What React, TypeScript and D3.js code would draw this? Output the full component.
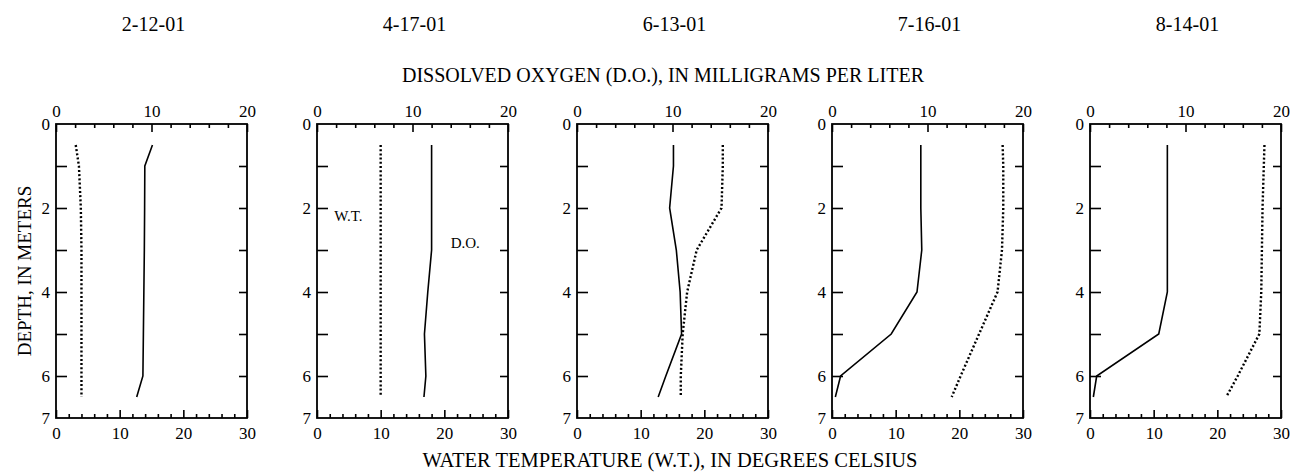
import { useEffect, useRef } from 'react'
import * as d3 from 'd3'

// sampling depths, in meters
const depths = [0.5, 1, 2, 3, 4, 5, 6, 6.5]

const dates = ['2-12-01', '4-17-01', '6-13-01', '7-16-01', '8-14-01']

// dissolved oxygen, mg/L
const doFeb = [10.1, 9.3, 9.28, 9.25, 9.2, 9.15, 9.1, 8.45]
const doApr = [12.0, 12.0, 12.0, 12.0, 11.6, 11.25, 11.4, 11.2]
const doJun = [10.1, 10.1, 9.7, 10.4, 10.8, 10.95, 9.3, 8.5]
const doJul = [9.3, 9.3, 9.3, 9.4, 8.9, 6.2, 0.9, 0.35]
const doAug = [8.1, 8.1, 8.1, 8.1, 8.1, 7.2, 0.7, 0.35]

// water temperature, deg C
const wtFeb = [3.1, 3.6, 3.9, 4.0, 4.0, 4.0, 4.0, 4.0]
const wtApr = [10, 10, 10, 10, 10, 10, 10, 10]
const wtJun = [22.9, 22.9, 22.7, 18.8, 17.3, 16.6, 16.3, 16.3]
const wtJul = [26.8, 26.9, 26.9, 26.7, 26.0, 23.1, 20.2, 18.8]
const wtAug = [27.4, 27.3, 27.1, 27.0, 26.9, 26.6, 23.2, 21.4]

const doSeries = [doFeb, doApr, doJun, doJul, doAug]
const wtSeries = [wtFeb, wtApr, wtJun, wtJul, wtAug]

const doTicks = [0, 10, 20]
const wtTicks = [0, 10, 20, 30]
const depthTicks = [0, 2, 4, 6, 7]

// in-plot labels on the second panel
const wtLabel = { text: 'W.T.', wt: 2.7, depth: 2.3 }
const doLabel = { text: 'D.O.', value: 14, depth: 2.95 }

const WIDTH = 1292
const HEIGHT = 475
const panelLeft = [56, 317, 577, 832, 1090]
const panelW = 191
const top = 124
const bottom = 418
const font = '"Liberation Serif", "Times New Roman", serif'

const App: React.FC = () => {
  const svgRef = useRef<SVGSVGElement>(null)

  useEffect(() => {
    if (!svgRef.current) return
    const svg = d3.select(svgRef.current)
    svg.selectAll('*').remove()

    const y = d3.scaleLinear().domain([0, 7]).range([top, bottom])

    dates.forEach((date, i) => {
      const left = panelLeft[i]
      const right = left + panelW
      const xDo = d3.scaleLinear().domain([0, 20]).range([left, right])
      const xWt = d3.scaleLinear().domain([0, 30]).range([left, right])
      const g = svg.append('g')

      // date title
      g.append('text')
        .attr('x', (left + right) / 2 + 2)
        .attr('y', 31)
        .attr('text-anchor', 'middle')
        .attr('font-size', 20)
        .text(date)

      // top axis: dissolved oxygen
      g.append('g')
        .attr('transform', `translate(0,${top})`)
        .call(d3.axisTop(xDo).tickValues(d3.range(2, 20, 2).filter(v => v !== 10)).tickSize(-4).tickFormat(() => ''))
      g.append('g')
        .attr('transform', `translate(0,${top})`)
        .call(d3.axisTop(xDo).tickValues(doTicks).tickSize(-8).tickPadding(7).tickFormat(d3.format('d')))

      // bottom axis: water temperature
      g.append('g')
        .attr('transform', `translate(0,${bottom})`)
        .call(d3.axisBottom(xWt).tickValues(d3.range(2, 30, 2).filter(v => v % 10 !== 0)).tickSize(-4).tickFormat(() => ''))
      g.append('g')
        .attr('transform', `translate(0,${bottom})`)
        .call(d3.axisBottom(xWt).tickValues(wtTicks).tickSize(-8).tickPadding(9).tickFormat(d3.format('d')))

      // depth axes
      g.append('g')
        .attr('transform', `translate(${left},0)`)
        .call(d3.axisLeft(y).tickValues(d3.range(1, 7)).tickSize(-11).tickFormat(() => ''))
      g.append('g')
        .attr('transform', `translate(${left},0)`)
        .call(d3.axisLeft(y).tickValues(depthTicks).tickSize(0).tickPadding(6).tickFormat(d3.format('d')))
      g.append('g')
        .attr('transform', `translate(${right},0)`)
        .call(d3.axisRight(y).tickValues(d3.range(1, 7)).tickSize(-8).tickFormat(() => ''))

      g.selectAll('.domain').remove()
      g.selectAll('.tick line').attr('stroke', '#000').attr('stroke-width', 1.6)
      g.selectAll('.tick text').attr('font-family', font).attr('font-size', 17).attr('fill', '#000')

      // frame
      g.append('rect')
        .attr('x', left)
        .attr('y', top)
        .attr('width', panelW)
        .attr('height', bottom - top)
        .attr('fill', 'none')
        .attr('stroke', '#000')
        .attr('stroke-width', 1.8)

      const doLine = d3.line<number>()
        .x(v => xDo(v))
        .y((_, k) => y(depths[k]))
      const wtLine = d3.line<number>()
        .x(v => xWt(v))
        .y((_, k) => y(depths[k]))

      g.append('path')
        .datum(wtSeries[i])
        .attr('d', wtLine)
        .attr('fill', 'none')
        .attr('stroke', '#000')
        .attr('stroke-width', 2.4)
        .attr('stroke-dasharray', '2 2.2')

      g.append('path')
        .datum(doSeries[i])
        .attr('d', doLine)
        .attr('fill', 'none')
        .attr('stroke', '#000')
        .attr('stroke-width', 1.6)

      if (i === 1) {
        g.append('text')
          .attr('x', xWt(wtLabel.wt))
          .attr('y', y(wtLabel.depth))
          .attr('font-size', 15)
          .text(wtLabel.text)
        g.append('text')
          .attr('x', xDo(doLabel.value))
          .attr('y', y(doLabel.depth))
          .attr('font-size', 15)
          .text(doLabel.text)
      }
    })

    svg.append('text')
      .attr('x', 663)
      .attr('y', 82)
      .attr('text-anchor', 'middle')
      .attr('font-size', 20)
      .text('DISSOLVED OXYGEN (D.O.), IN MILLIGRAMS PER LITER')

    svg.append('text')
      .attr('x', 670)
      .attr('y', 467)
      .attr('text-anchor', 'middle')
      .attr('font-size', 20.5)
      .text('WATER TEMPERATURE (W.T.), IN DEGREES CELSIUS')

    svg.append('text')
      .attr('transform', `translate(31,${(top + bottom) / 2}) rotate(-90)`)
      .attr('text-anchor', 'middle')
      .attr('font-size', 19)
      .text('DEPTH, IN METERS')
  }, [])

  return (
    <svg
      ref={svgRef}
      width={WIDTH}
      height={HEIGHT}
      fontFamily={font}
      style={{ position: 'absolute', left: 0, top: 0, background: '#fff' }}
    />
  )
}

export default App
